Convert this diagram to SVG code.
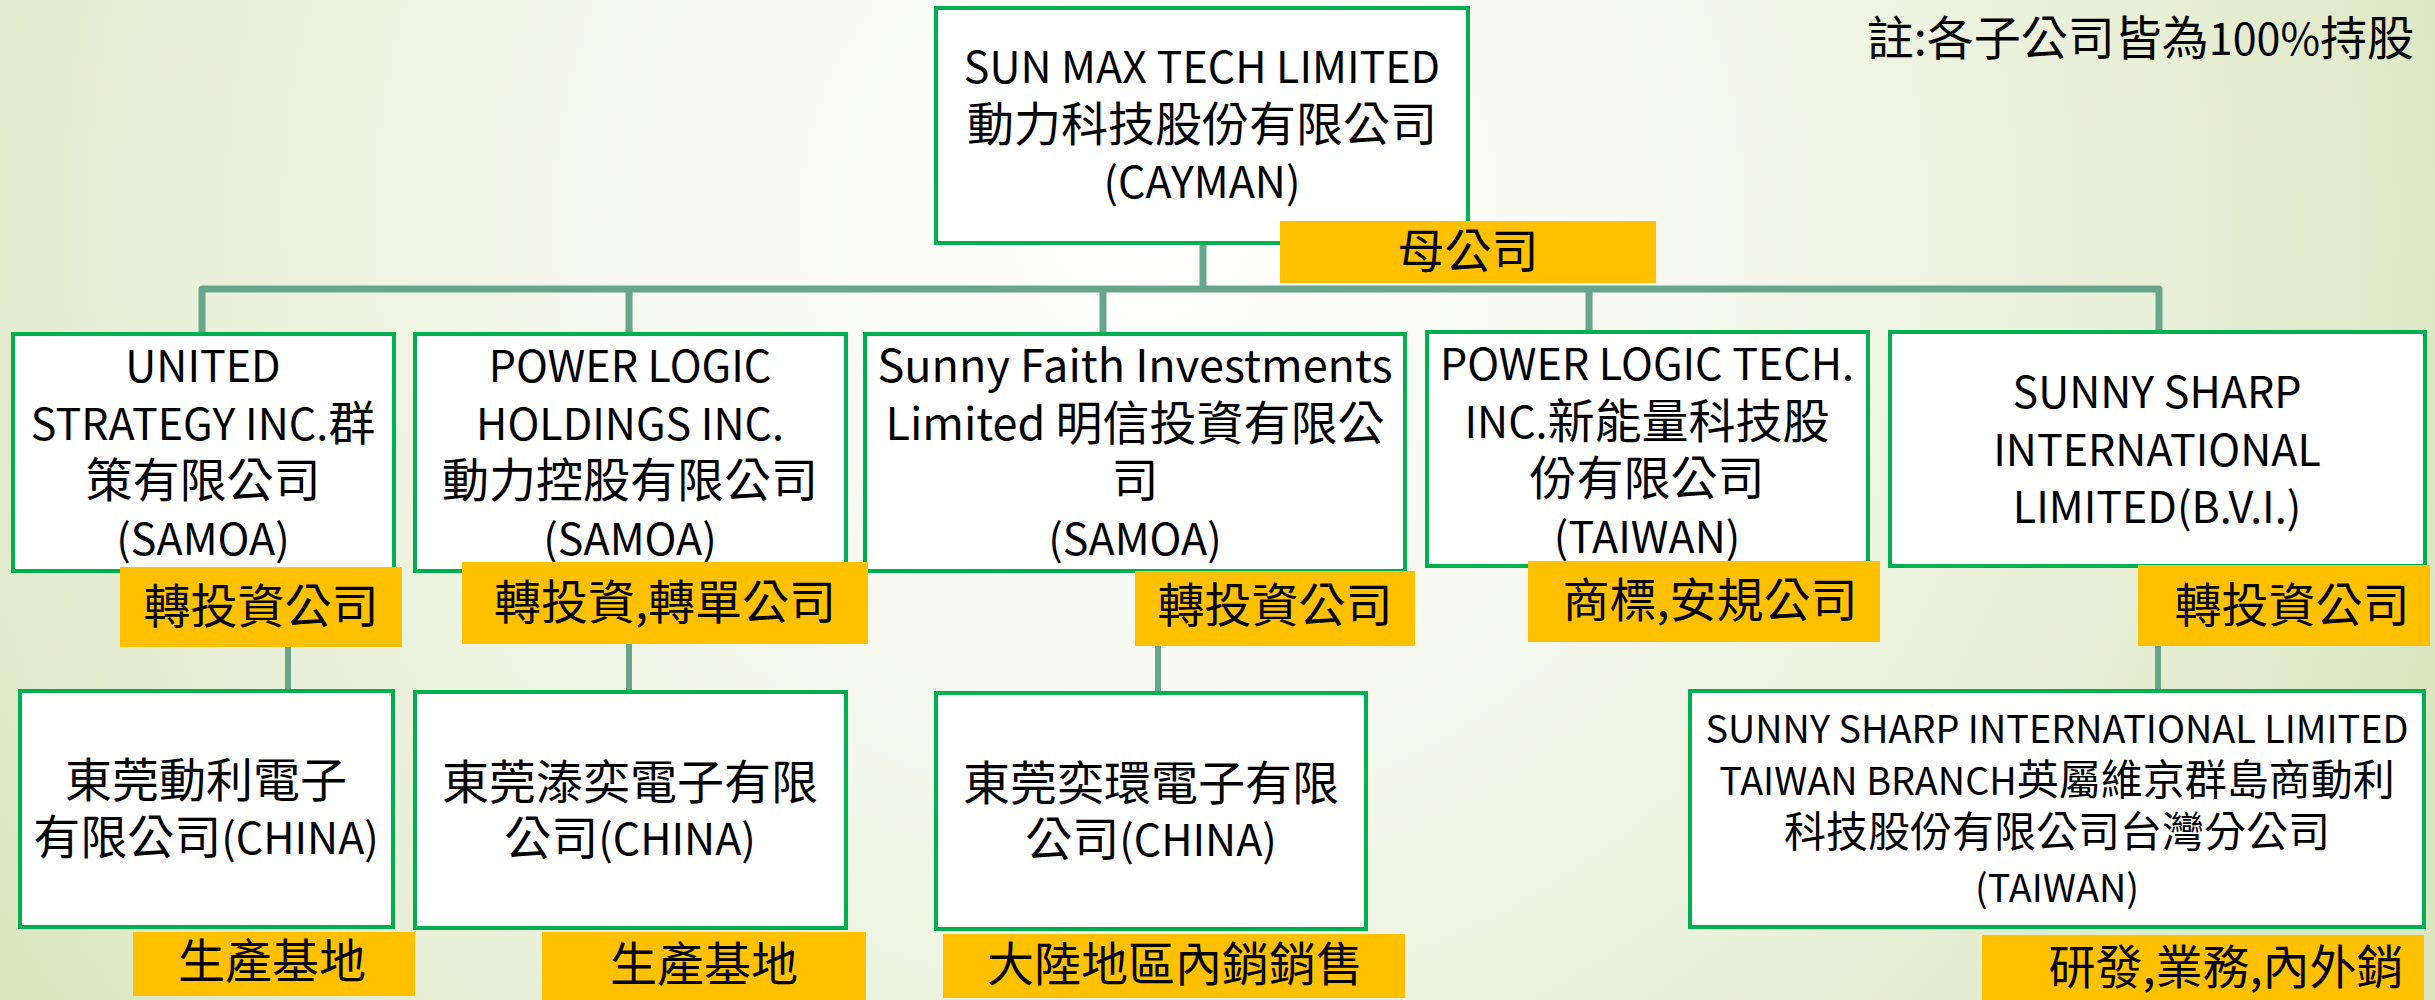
<svg xmlns="http://www.w3.org/2000/svg" width="2435" height="1000" viewBox="0 0 2435 1000">
<defs>
<radialGradient id="bg" gradientUnits="userSpaceOnUse" cx="1150" cy="220" r="1350">
<stop offset="0" stop-color="#ffffff"/>
<stop offset="0.35" stop-color="#f7f9f0"/>
<stop offset="0.75" stop-color="#e8efd6"/>
<stop offset="1" stop-color="#dce6c1"/>
</radialGradient>
<style>
.box{fill:#ffffff;stroke:#00b050;stroke-width:4}
.lab{fill:#ffc000}
.t{font-family:"Noto Sans CJK TC","Noto Sans CJK SC",sans-serif;font-size:47px;fill:#000;text-anchor:middle}
.s{font-size:42px}
.l{font-size:43px}
.m{font-size:45px}
.ls{font-size:37.8px}
.c{stroke:#68a68b;fill:none;stroke-linecap:round}
</style>
</defs>
<rect x="0" y="0" width="2435" height="1000" fill="url(#bg)"/>
<text class="t" x="2414" y="55" style="text-anchor:end">註:各子公司皆為<tspan class="l">100%</tspan>持股</text>
<g id="connectors">
<path class="c" stroke-width="7" d="M1203 243 V289 M202 289 H2159 M202 289 V334 M629 289 V334 M1103 289 V334 M1589 289 V332 M2159 289 V332"/>
<path class="c" stroke-width="6" d="M288 646 V691 M629 644 V692 M1158 646 V693 M2158 641 V691"/>
</g>
<g id="n-sunmax">
<rect class="box" x="936" y="8" width="532" height="235"/>
<text class="t l" x="1202" y="83">SUN MAX TECH LIMITED</text>
<text class="t" x="1202" y="141">動力科技股份有限公司</text>
<text class="t l" x="1202" y="198">(CAYMAN)</text>
</g>
<g id="l-parent">
<rect class="lab" x="1280" y="221" width="376" height="62"/>
<text class="t" x="1468" y="268">母公司</text>
</g>
<g id="n-united">
<rect class="box" x="13" y="334" width="381" height="237"/>
<text class="t l" x="203" y="382">UNITED</text>
<text class="t" x="203" y="440"><tspan class="l">STRATEGY INC.</tspan>群</text>
<text class="t" x="203" y="497">策有限公司</text>
<text class="t l" x="203" y="555">(SAMOA)</text>
</g>
<g id="n-plholdings">
<rect class="box" x="415" y="334" width="431" height="237"/>
<text class="t l" x="630" y="382">POWER LOGIC</text>
<text class="t l" x="630" y="440">HOLDINGS INC.</text>
<text class="t" x="630" y="497">動力控股有限公司</text>
<text class="t l" x="630" y="555">(SAMOA)</text>
</g>
<g id="n-sunnyfaith">
<rect class="box" x="865" y="334" width="540" height="237"/>
<text class="t m" x="1135" y="382">Sunny Faith Investments</text>
<text class="t" x="1135" y="440"><tspan class="m">Limited </tspan>明信投資有限公</text>
<text class="t" x="1135" y="497">司</text>
<text class="t l" x="1135" y="555">(SAMOA)</text>
</g>
<g id="n-pltech">
<rect class="box" x="1427" y="332" width="441" height="234"/>
<text class="t l" x="1647" y="380">POWER LOGIC TECH.</text>
<text class="t" x="1647" y="438"><tspan class="l">INC.</tspan>新能量科技股</text>
<text class="t" x="1647" y="495">份有限公司</text>
<text class="t l" x="1647" y="553">(TAIWAN)</text>
</g>
<g id="n-sunnysharp">
<rect class="box" x="1890" y="332" width="535" height="234"/>
<text class="t l" x="2157" y="408">SUNNY SHARP</text>
<text class="t l" x="2157" y="466">INTERNATIONAL</text>
<text class="t l" x="2157" y="523">LIMITED(B.V.I.)</text>
</g>
<g id="l-united">
<rect class="lab" x="120" y="567" width="282" height="80"/>
<text class="t" x="261" y="623">轉投資公司</text>
</g>
<g id="l-plholdings">
<rect class="lab" x="462" y="562" width="406" height="82"/>
<text class="t" x="665" y="619">轉投資,轉單公司</text>
</g>
<g id="l-sunnyfaith">
<rect class="lab" x="1135" y="571" width="280" height="75"/>
<text class="t" x="1275" y="622">轉投資公司</text>
</g>
<g id="l-pltech">
<rect class="lab" x="1528" y="561" width="352" height="81"/>
<text class="t" x="1710" y="617">商標,安規公司</text>
</g>
<g id="l-sunnysharp">
<rect class="lab" x="2138" y="565" width="292" height="81"/>
<text class="t" x="2292" y="622">轉投資公司</text>
</g>
<g id="n-dongli">
<rect class="box" x="20" y="691" width="373" height="236"/>
<text class="t" x="206" y="797">東莞動利電子</text>
<text class="t" x="206" y="854">有限公司<tspan class="l">(CHINA)</tspan></text>
</g>
<g id="n-taiyi">
<rect class="box" x="415" y="692" width="431" height="236"/>
<text class="t" x="630" y="799">東莞溙奕電子有限</text>
<text class="t" x="630" y="855">公司<tspan class="l">(CHINA)</tspan></text>
</g>
<g id="n-yihuan">
<rect class="box" x="936" y="693" width="430" height="236"/>
<text class="t" x="1151" y="800">東莞奕環電子有限</text>
<text class="t" x="1151" y="856">公司<tspan class="l">(CHINA)</tspan></text>
</g>
<g id="n-branch">
<rect class="box" x="1690" y="691" width="734" height="236"/>
<text class="t ls" x="2057" y="743">SUNNY SHARP INTERNATIONAL LIMITED</text>
<text class="t s" x="2057" y="795"><tspan class="ls">TAIWAN BRANCH</tspan>英屬維京群島商動利</text>
<text class="t s" x="2057" y="847">科技股份有限公司台灣分公司</text>
<text class="t ls" x="2057" y="902">(TAIWAN)</text>
</g>
<g id="l-dongli">
<rect class="lab" x="133" y="932" width="282" height="64"/>
<text class="t" x="272" y="978">生產基地</text>
</g>
<g id="l-taiyi">
<rect class="lab" x="542" y="932" width="324" height="68"/>
<text class="t" x="704" y="981">生產基地</text>
</g>
<g id="l-yihuan">
<rect class="lab" x="943" y="934" width="462" height="64"/>
<text class="t" x="1175" y="981">大陸地區內銷銷售</text>
</g>
<g id="l-branch">
<rect class="lab" x="1982" y="935" width="442" height="65"/>
<text class="t" x="2226" y="984">研發,業務,內外銷</text>
</g>
</svg>
